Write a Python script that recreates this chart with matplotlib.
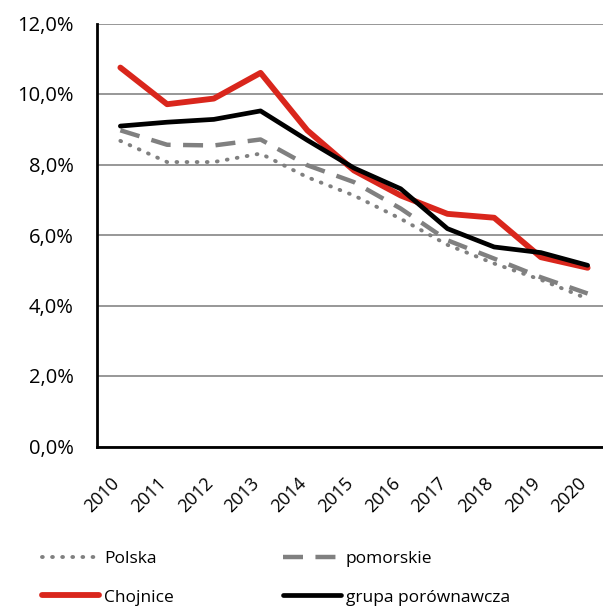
import matplotlib
matplotlib.use('Agg')
from matplotlib import pyplot as plt
from matplotlib.ticker import FuncFormatter
from matplotlib.transforms import ScaledTranslation

plt.rcParams['font.family'] = ['Open Sans', 'DejaVu Sans']

years = ['2010', '2011', '2012', '2013', '2014', '2015', '2016', '2017', '2018', '2019', '2020']
polska = [8.67, 8.07, 8.07, 8.31, 7.64, 7.12, 6.46, 5.72, 5.19, 4.73, 4.19]
pomorskie = [8.97, 8.56, 8.54, 8.71, 7.98, 7.5, 6.75, 5.85, 5.33, 4.8, 4.34]
chojnice = [10.75, 9.71, 9.87, 10.6, 8.97, 7.83, 7.12, 6.6, 6.49, 5.37, 5.07]
grupa = [9.09, 9.2, 9.28, 9.52, 8.69, 7.9, 7.31, 6.18, 5.66, 5.5, 5.14]


def graphing():
    fig = plt.figure(figsize=(6.03, 6.12), dpi=100)
    ax = fig.add_axes([97 / 603, 165.5 / 612, 514 / 603, 423 / 612])
    x = range(len(years))

    l1, = ax.plot(x, polska, label='Polska', color='#808080', lw=2.8,
                  linestyle=(0, (0.2, 2.4)), dash_capstyle='round')
    l2, = ax.plot(x, pomorskie, label='pomorskie', color='#808080', lw=3.2,
                  linestyle=(0, (4.5, 2.8)))
    l3, = ax.plot(x, chojnice, label='Chojnice', color='#d9261c', lw=4.2,
                  solid_capstyle='round')
    l4, = ax.plot(x, grupa, label='grupa porównawcza', color='black', lw=3.4,
                  solid_capstyle='round')

    ax.set_xlim(-0.5, 10.5)
    ax.set_ylim(0, 12)
    ax.set_yticks([0, 2, 4, 6, 8, 10, 12])
    ax.yaxis.set_major_formatter(FuncFormatter(lambda v, p: f'{v:.1f}%'.replace('.', ',')))
    ax.grid(axis='y', color='#8f8f8f', lw=1.3)
    ax.set_axisbelow(True)
    ax.set_xticks(list(x))
    ax.set_xticklabels(years, rotation=45, ha='right', rotation_mode='default')
    ax.tick_params(axis='x', length=0, pad=20, labelsize=13)
    ax.tick_params(axis='y', length=0, pad=17, labelsize=14.5)
    shift = ScaledTranslation(2 / 72, 0, fig.dpi_scale_trans)
    for lab in ax.get_xticklabels():
        lab.set_transform(lab.get_transform() + shift)
    for side in ['top', 'right']:
        ax.spines[side].set_visible(False)
    ax.spines['left'].set_linewidth(2)
    ax.spines['bottom'].set_linewidth(2)

    fig.legend([l1, l3, l2, l4], ['Polska', 'Chojnice', 'pomorskie', 'grupa porównawcza'],
               loc='upper left', bbox_to_anchor=(26 / 603, 1 - 535 / 612), ncol=2,
               frameon=False, fontsize=12.5, handlelength=3.3, handletextpad=0.3,
               columnspacing=6.3, labelspacing=1.3)

    fig.savefig('out.png', dpi=100)


if __name__ == "__main__":
    graphing()
